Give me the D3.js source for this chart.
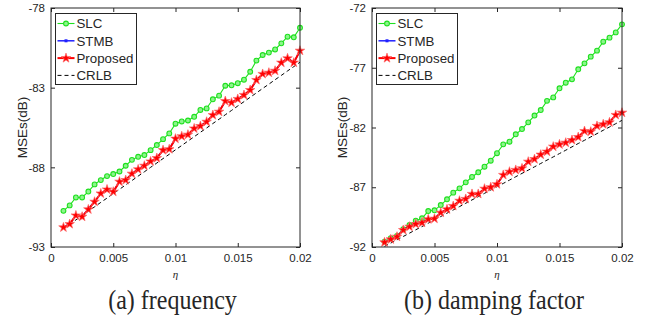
<!DOCTYPE html>
<html>
<head>
<meta charset="utf-8">
<script src="https://cdn.jsdelivr.net/npm/d3@7"></script>
<style>
  body { margin: 0; background: #fff; }
  svg text { fill: #262626; }
</style>
</head>
<body>
<div id="chart"></div>
<script>
// eta values (x axis)
const etaValues = [0.001, 0.0015, 0.002, 0.0025, 0.003, 0.0035, 0.004, 0.0045, 0.005, 0.0055,
  0.006, 0.0065, 0.007, 0.0075, 0.008, 0.0085, 0.009, 0.0095, 0.01, 0.0105,
  0.011, 0.0115, 0.012, 0.0125, 0.013, 0.0135, 0.014, 0.0145, 0.015, 0.0155,
  0.016, 0.0165, 0.017, 0.0175, 0.018, 0.0185, 0.019, 0.0195, 0.02];

const seriesNames = ["SLC", "STMB", "Proposed", "CRLB"];

// (a) frequency
const freqSLC = [-90.73, -90.39, -89.89, -89.89, -89.52, -89.07, -88.8, -88.55, -88.42, -88.26,
  -87.9, -87.53, -87.34, -87.23, -86.92, -86.6, -86.23, -85.87, -85.26, -85.12,
  -85.06, -84.83, -84.4, -84.3, -83.73, -83.5, -82.88, -82.85, -82.72, -82.5,
  -82.0, -81.3, -80.95, -80.8, -80.6, -80.22, -79.8, -79.84, -79.24];
const freqSTMB = [-91.76, -91.55, -91.03, -91.1, -90.62, -90.15, -89.65, -89.4, -89.52, -88.9,
  -88.79, -88.41, -88.12, -87.9, -87.62, -87.42, -86.9, -86.85, -86.2, -86.04,
  -85.95, -85.57, -85.4, -85.15, -84.72, -84.5, -83.85, -83.93, -83.7, -83.46,
  -83.15, -82.52, -82.15, -82.05, -81.93, -81.44, -81.17, -81.42, -80.69];
const freqProposed = [-91.77, -91.56, -91.02, -91.1, -90.64, -90.16, -89.64, -89.39, -89.53, -88.9,
  -88.8, -88.4, -88.13, -87.9, -87.63, -87.42, -86.92, -86.86, -86.2, -86.05,
  -85.95, -85.56, -85.41, -85.14, -84.72, -84.51, -83.84, -83.94, -83.71, -83.46,
  -83.15, -82.52, -82.14, -82.06, -81.94, -81.43, -81.16, -81.43, -80.68];
const freqCRLB = [-91.85, -91.58, -91.3, -91.03, -90.75, -90.48, -90.2, -89.93, -89.65, -89.38,
  -89.1, -88.83, -88.55, -88.28, -88.0, -87.73, -87.45, -87.18, -86.9, -86.63,
  -86.35, -86.08, -85.8, -85.53, -85.25, -84.98, -84.7, -84.43, -84.15, -83.88,
  -83.6, -83.33, -83.05, -82.78, -82.5, -82.23, -81.95, -81.68, -81.4];
const freqTicks = [-78, -83, -88, -93];

// (b) damping factor
const dampSLC = [-91.55, -91.27, -91.08, -90.52, -90.16, -89.8, -89.6, -88.99, -88.93, -88.49,
  -88.01, -87.45, -87.09, -86.59, -86.14, -85.75, -85.28, -84.78, -84.15, -83.41,
  -83.19, -82.57, -82.13, -81.57, -81.0, -80.54, -79.77, -79.48, -78.72, -78.25,
  -77.97, -77.13, -76.63, -76.07, -75.57, -74.82, -74.48, -74.04, -73.37];
const dampSTMB = [-91.6, -91.35, -91.13, -90.57, -90.3, -90.07, -89.96, -89.67, -89.62, -89.12,
  -88.84, -88.56, -88.14, -87.97, -87.57, -87.55, -87.12, -86.99, -86.74, -85.98,
  -85.71, -85.54, -85.41, -84.87, -84.64, -84.28, -84.01, -83.61, -83.4, -83.26,
  -83.04, -82.79, -82.31, -82.34, -81.88, -81.72, -81.56, -80.96, -80.75];
const dampProposed = [-91.61, -91.36, -91.14, -90.58, -90.3, -90.08, -89.97, -89.68, -89.63, -89.13,
  -88.85, -88.57, -88.13, -87.98, -87.56, -87.56, -87.12, -87.0, -86.75, -85.97,
  -85.7, -85.55, -85.42, -84.86, -84.65, -84.27, -84.02, -83.6, -83.41, -83.27,
  -83.05, -82.8, -82.3, -82.35, -81.87, -81.73, -81.57, -80.95, -80.76];
const dampCRLB = [-91.95, -91.67, -91.4, -91.12, -90.84, -90.56, -90.29, -90.01, -89.73, -89.45,
  -89.17, -88.9, -88.62, -88.34, -88.06, -87.79, -87.51, -87.23, -86.95, -86.68,
  -86.4, -86.12, -85.84, -85.57, -85.29, -85.01, -84.73, -84.46, -84.18, -83.9,
  -83.62, -83.34, -83.07, -82.79, -82.51, -82.23, -81.96, -81.68, -81.4];
const dampTicks = [-72, -77, -82, -87, -92];

const xTicks = [0, 0.005, 0.01, 0.015, 0.02];

const W = 647, H = 320;
const svg = d3.select("#chart").append("svg").attr("width", W).attr("height", H);

const green = "#1fe01f", blue = "#2020ff", red = "#ff0000";

function drawPanel(p) {
  const g = svg.append("g").attr("transform", `translate(${p.left},${p.top})`);
  const w = p.width, h = p.height;

  const x = d3.scaleLinear().domain([0, 0.02]).range([0, w]);
  const y = d3.scaleLinear().domain(p.yDomain).range([h, 0]);

  g.append("rect").attr("width", w).attr("height", h).attr("fill", "#fff");

  const fmt = d => d === 0 ? "0" : String(d);
  const axStyle = sel => {
    sel.select(".domain").remove();
    sel.selectAll("line").attr("stroke", "#262626");
    sel.selectAll("text").attr("font-family", "'Liberation Sans', Arial, sans-serif")
      .attr("font-size", "11.5px").attr("fill", "#262626");
  };

  g.append("g").attr("transform", `translate(0,${h})`)
    .call(d3.axisBottom(x).tickValues(xTicks).tickFormat(fmt).tickSizeInner(-4).tickSizeOuter(0).tickPadding(7))
    .call(axStyle);
  g.append("g")
    .call(d3.axisTop(x).tickValues(xTicks).tickFormat("").tickSizeInner(-4).tickSizeOuter(0))
    .call(axStyle);
  g.append("g")
    .call(d3.axisLeft(y).tickValues(p.yTicks).tickFormat(fmt).tickSizeInner(-4).tickSizeOuter(0).tickPadding(6))
    .call(axStyle);
  g.append("g").attr("transform", `translate(${w},0)`)
    .call(d3.axisRight(y).tickValues(p.yTicks).tickFormat("").tickSizeInner(-4).tickSizeOuter(0))
    .call(axStyle);

  const line = d3.line().x((d, i) => x(etaValues[i])).y(d => y(d));

  // CRLB dashed
  g.append("path").datum(p.crlb).attr("d", line)
    .attr("fill", "none").attr("stroke", "#000").attr("stroke-width", 1)
    .attr("stroke-dasharray", "4,3");

  // SLC
  g.append("path").datum(p.slc).attr("d", line)
    .attr("fill", "none").attr("stroke", green).attr("stroke-width", 1.1);
  g.selectAll(".slc").data(p.slc).enter().append("circle")
    .attr("cx", (d, i) => x(etaValues[i])).attr("cy", d => y(d)).attr("r", 2.4)
    .attr("fill", "#8cf58c").attr("stroke", green).attr("stroke-width", 1.1);

  // STMB
  g.append("path").datum(p.stmb).attr("d", line)
    .attr("fill", "none").attr("stroke", blue).attr("stroke-width", 1.5);
  g.selectAll(".stmb").data(p.stmb).enter().append("rect")
    .attr("x", (d, i) => x(etaValues[i]) - 1.5).attr("y", d => y(d) - 1.5)
    .attr("width", 3).attr("height", 3).attr("fill", blue);

  // Proposed
  g.append("path").datum(p.prop).attr("d", line)
    .attr("fill", "none").attr("stroke", red).attr("stroke-width", 2);
  const star = d3.symbol().type(d3.symbolStar).size(28);
  g.selectAll(".prop").data(p.prop).enter().append("path")
    .attr("d", star)
    .attr("transform", (d, i) => `translate(${x(etaValues[i])},${y(d)})`)
    .attr("fill", red).attr("stroke", "#ff6a6a").attr("stroke-width", 0.7);

  // frame
  g.append("rect").attr("width", w).attr("height", h)
    .attr("fill", "none").attr("stroke", "#262626").attr("stroke-width", 1);

  // legend
  const lg = g.append("g").attr("transform", "translate(4.5,5.5)");
  lg.append("rect").attr("width", 81).attr("height", 71)
    .attr("fill", "#fff").attr("stroke", "#262626").attr("stroke-width", 1);
  const rowY = i => 10 + i * 17.3;
  seriesNames.forEach((name, i) => {
    const ry = rowY(i);
    const ln = lg.append("line").attr("x1", 2).attr("x2", 19).attr("y1", ry).attr("y2", ry);
    if (name === "SLC") {
      ln.attr("stroke", green).attr("stroke-width", 1.1);
      lg.append("circle").attr("cx", 10.5).attr("cy", ry).attr("r", 2.4)
        .attr("fill", "#8cf58c").attr("stroke", green).attr("stroke-width", 1.1);
    } else if (name === "STMB") {
      ln.attr("stroke", blue).attr("stroke-width", 1.5);
      lg.append("rect").attr("x", 9).attr("y", ry - 1.5).attr("width", 3).attr("height", 3).attr("fill", blue);
    } else if (name === "Proposed") {
      ln.attr("stroke", red).attr("stroke-width", 2);
      lg.append("path").attr("d", star).attr("transform", `translate(10.5,${ry})`)
        .attr("fill", red).attr("stroke", "#ff6a6a").attr("stroke-width", 0.7);
    } else {
      ln.attr("stroke", "#000").attr("stroke-width", 1).attr("stroke-dasharray", "4,3");
    }
    lg.append("text").attr("x", 21).attr("y", ry + 4.8)
      .attr("font-family", "'Liberation Sans', Arial, sans-serif").attr("font-size", "13.3px")
      .text(name);
  });

  // y label
  g.append("text")
    .attr("transform", `translate(${p.yLabelX},${h / 2}) rotate(-90)`)
    .attr("text-anchor", "middle")
    .attr("font-family", "'Liberation Sans', Arial, sans-serif").attr("font-size", "13.5px")
    .text("MSEs(dB)");

  // x label
  g.append("text").attr("x", w / 2).attr("y", h + 31)
    .attr("text-anchor", "middle")
    .attr("font-family", "'Liberation Serif', 'Times New Roman', serif").attr("font-style", "italic")
    .attr("font-size", "11px")
    .text("η");

  // caption (slightly stretched vertically like the original figure)
  g.append("text")
    .attr("transform", `translate(${w / 2 - 3},${h + 61.5}) scale(1,1.15)`)
    .attr("text-anchor", "middle")
    .attr("font-family", "'Liberation Serif', 'Times New Roman', serif")
    .attr("font-size", "24px").attr("fill", "#000")
    .text(p.caption);
}

drawPanel({
  left: 51, top: 8, width: 249, height: 239,
  yDomain: [-93, -78], yTicks: freqTicks,
  slc: freqSLC, stmb: freqSTMB, prop: freqProposed, crlb: freqCRLB,
  yLabelX: -24, caption: "(a) frequency"
});

drawPanel({
  left: 372, top: 8, width: 250, height: 239,
  yDomain: [-92, -72], yTicks: dampTicks,
  slc: dampSLC, stmb: dampSTMB, prop: dampProposed, crlb: dampCRLB,
  yLabelX: -25.5, caption: "(b) damping factor"
});
</script>
</body>
</html>
